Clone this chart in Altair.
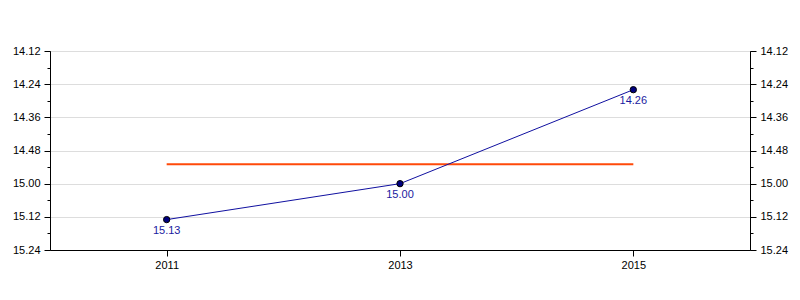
import altair as alt
import pandas as pd

years = [2011, 2013, 2015]
time_labels = ["15.13", "15.00", "14.26"]
avg_label = "14.53"
y_min_label = "14.12"
y_max_label = "15.24"


def to_sec(s):
    m, sec = s.split(".")
    return int(m) * 60 + int(sec)


secs = [to_sec(t) for t in time_labels]
df = pd.DataFrame({"year": years, "sec": secs, "label": time_labels})
avg_df = pd.DataFrame({"x1": [years[0]], "x2": [years[-1]], "sec": [to_sec(avg_label)]})

ymin, ymax = to_sec(y_min_label), to_sec(y_max_label)
tick_vals = list(range(ymin, ymax + 1, 6))

FONT = "Liberation Sans"
label_expr = ("datum.value % 12 == 0 ? floor(datum.value/60) + '.' + "
              "(datum.value % 60 < 10 ? '0' : '') + (datum.value % 60) : ''")


def yaxis(orient, grid):
    return alt.Axis(
        orient=orient, values=tick_vals, labelExpr=label_expr, title=None,
        grid=grid, gridColor="#dddddd",
        gridOpacity={"condition": {"test": "datum.value % 12 == 0", "value": 1}, "value": 0},
        tickSize={"condition": {"test": "datum.value % 12 == 0", "value": 6}, "value": 3},
        tickColor="black", domainColor="black", labelColor="black",
        labelFont=FONT, labelFontSize=11, labelPadding=4, labelBound=False,
        labelFlush=False, labelOverlap=False,
    )


yscale = alt.Scale(domain=[ymin, ymax], reverse=True, nice=False, zero=False)
xscale = alt.Scale(domain=[2010, 2016], nice=False, zero=False)
xaxis = alt.Axis(values=years, format="d", title=None, grid=False, tickSize=6,
                 tickColor="black", domainColor="black", labelColor="black",
                 labelFont=FONT, labelFontSize=11, labelPadding=3)
xenc = alt.X("year:Q", scale=xscale, axis=xaxis)
yenc = alt.Y("sec:Q", scale=yscale, axis=yaxis("left", True))

base = alt.Chart(df)
line = base.mark_line(color="#1010a0", strokeWidth=1).encode(x=xenc, y=yenc)
pts = base.mark_point(filled=True, size=40, color="#000080", stroke="black",
                      strokeWidth=1, opacity=1).encode(x=xenc, y=yenc)
txt = base.mark_text(baseline="top", dy=5, color="#1a1aa0", font=FONT,
                     fontSize=11).encode(x=xenc, y=yenc, text="label:N")
rule = alt.Chart(avg_df).mark_rule(color="#ff4a0a", strokeWidth=2).encode(
    x=alt.X("x1:Q", scale=xscale, axis=xaxis), x2="x2:Q", y=yenc)

main = alt.layer(rule, line, pts, txt)
right = base.mark_point(opacity=0).encode(
    x=xenc, y=alt.Y("sec:Q", scale=yscale, axis=yaxis("right", False)))

chart = alt.layer(main, right).resolve_scale(y="independent").properties(
    width=700, height=199,
    autosize=alt.AutoSizeParams(type="none"),
    padding={"left": 50, "top": 51, "right": 50, "bottom": 50},
).configure_view(stroke="black", strokeWidth=1)

chart.save("out.html", embed_options={"renderer": "svg", "actions": False})
